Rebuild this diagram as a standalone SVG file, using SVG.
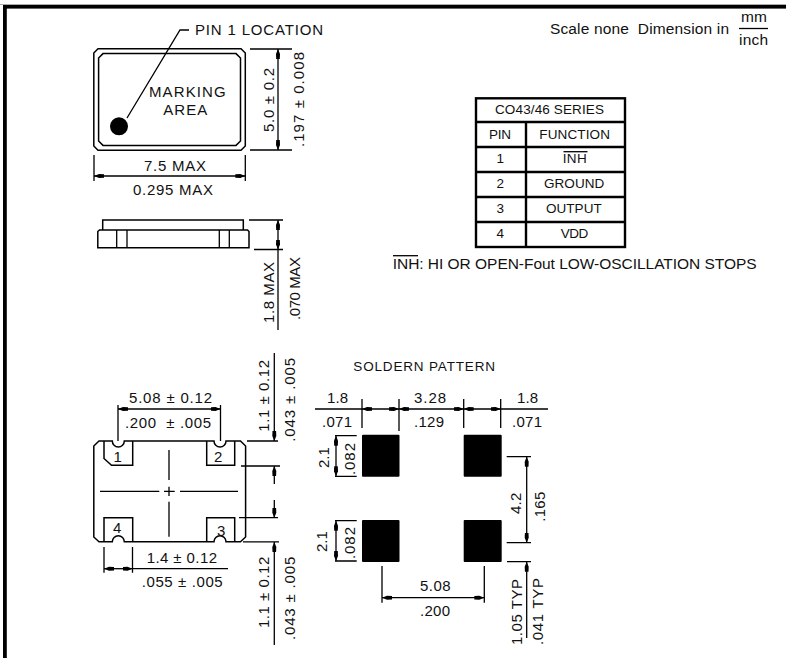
<svg xmlns="http://www.w3.org/2000/svg" width="786" height="658" viewBox="0 0 786 658">
<style>
text{font-family:"Liberation Sans",Arial,sans-serif;font-size:15px;fill:#111;white-space:pre}
.t{font-size:13.5px}
.o{fill:none;stroke:#000;stroke-width:1.5}
.l{fill:none;stroke:#000;stroke-width:1.3}
.d{fill:none;stroke:#000;stroke-width:1.3}
.a{marker-end:url(#arr)}
.b{marker-start:url(#arr);marker-end:url(#arr)}
.g{fill:none;stroke:#000;stroke-width:2.4}
.p{fill:#000}
.s{font-size:15.5px}
</style>
<defs>
<marker id="arr" markerUnits="userSpaceOnUse" markerWidth="11" markerHeight="6" refX="10" refY="3" orient="auto-start-reverse"><path d="M0 1.2L5 1L10 3L5 5L0 4.8Z" fill="#000"/></marker>
</defs>
<rect width="786" height="658" fill="#fff"/>
<g id="frame"><path d="M0 4.5H786" stroke="#aaa" stroke-width="1"/><rect x="3" y="5" width="783" height="3.6" fill="#000"/><rect x="3" y="5" width="3.8" height="653" fill="#000"/></g>
<g id="scale-note">
<text class="s" x="550" y="34" textLength="179" lengthAdjust="spacing">Scale none  Dimension in</text>
<text class="s" x="741" y="22" textLength="26">mm</text><path class="l" d="M739 28.5H768"/><text class="s" x="739" y="44.7" textLength="29">inch</text>
</g>
<g id="top-view">
<path class="o" d="M98 48.8H241L245.3 53V146L241 150.3H98L93.8 146V53Z"/>
<path class="o" d="M103 53.6H236L240.5 58V141L236 145.4H103L98.6 141V58Z"/>
<circle cx="119" cy="126.3" r="9" fill="#000"/>
<path class="l" d="M127 118L180 30H189"/>
<text x="195" y="34.7" textLength="128">PIN 1 LOCATION</text>
<text x="149" y="96.7" textLength="76.7">MARKING</text>
<text x="163.3" y="114.7" textLength="44">AREA</text>
</g>
<g id="side-view">
<path class="o" d="M102.7 230V220H243.3V230"/>
<path class="o" d="M99.5 230H247.5L249 231.5V247.7H97.8V231.5Z"/>
<path class="l" d="M116.7 230V248M127 230V248M219.3 230V248M229.3 230V248"/>
</g>
<g id="bottom-view">
<path class="o" d="M99 441H112.3A6 6 0 0 0 124.3 441H214A6 6 0 0 0 226 441H240.5L245.6 446V537L240.5 541.8H226A6 6 0 0 0 214 541.8H124.3A6 6 0 0 0 112.3 541.8H99L93.8 537V446Z"/>
<path class="o" d="M104 441V458.5L111.5 465.3H132.7V441M206.7 441V465.3H234.7V441M104 541.8V517.7H132.7V541.8M206.7 541.8V517.7H234.7V541.8"/>
<path class="l" d="M100 491.3H159.3M164 491.3H174.7M180 491.3H238M169 450V480M169 486.7V496M169 501.7V536.7"/>
<text x="113.5" y="462">1</text><text x="214" y="462">2</text><text x="113" y="533">4</text><text x="217" y="535.5">3</text>
</g>
<g id="solder-pattern">
<text x="353.3" y="371" style="font-size:13.5px" textLength="141.7">SOLDERN PATTERN</text>
<rect class="p" x="362" y="434.7" width="37.5" height="42" rx="1"/><rect class="p" x="463.7" y="434.7" width="38" height="42" rx="1"/>
<rect class="p" x="362" y="520" width="37.5" height="42" rx="1"/><rect class="p" x="463.7" y="520" width="38" height="42" rx="1"/>
</g>
<g id="pin-table">
<rect class="g" x="476" y="98.3" width="149" height="148.7"/>
<path class="g" d="M476 122H625M476 147H625M476 172H625M476 197H625M476 222H625M526 122V247"/>
<text class="t" x="495" y="114.3" textLength="109">CO43/46 SERIES</text>
<text class="t" x="489" y="139.3" textLength="22">PIN</text><text class="t" x="539.3" y="139.3" textLength="70.7">FUNCTION</text>
<text class="t" x="496.5" y="163.3">1</text><text class="t" x="562.7" y="163.3" textLength="24">INH</text><path class="l" d="M563.5 151.7H587.5"/>
<text class="t" x="496.5" y="188.3">2</text><text class="t" x="544" y="188.3" textLength="60.3">GROUND</text>
<text class="t" x="496.5" y="213.3">3</text><text class="t" x="546" y="213.3" textLength="55.7">OUTPUT</text>
<text class="t" x="496.5" y="238">4</text><text class="t" x="560.7" y="238" textLength="27.6">VDD</text>
</g>
<g id="footnote">
<text class="s" x="392.7" y="269.3" textLength="364">INH: HI OR OPEN-Fout LOW-OSCILLATION STOPS</text><path class="l" d="M393 255.7H418"/>
</g>
<g id="connectors">
<path class="d" d="M250 49H292M250 150H292M94 155V181M245.3 155V181M249 220H283M254 249.5H283"/>
<path class="d b" d="M278 49V150"/><path class="d b" d="M94 176H245.3"/>
<path class="d" d="M278 330V249.5"/><path class="d b" d="M278 249.5V220"/>
<path class="d" d="M118 405V441M220.5 405V441M247 441H278M241 466H280M239 517.7H278M243 541.8H279"/>
<path class="d b" d="M118 409H220.5"/>
<path class="d a" d="M274.3 353V441"/><path class="d a" d="M274.3 484V466"/><path class="d a" d="M274.3 500V517.7"/><path class="d a" d="M274.3 645V542"/>
<path class="d" d="M104 547V572.7M132.5 547V572.7"/><path class="d" d="M132.5 568.7H228"/><path class="d b" d="M104 568.7H132.5"/>
<path class="d" d="M315 409H362M501 409H548M362 399V428M399 399V431M463.7 399V428M500.7 399V428"/>
<path class="d b" d="M362 409H399"/><path class="d b" d="M399 409H463.7"/><path class="d b" d="M463.7 409H500.7"/>
<path class="d" d="M335 435.7H356.7M335 476.3H356.7M335 520.7H356.7M335 561H356.7"/>
<path class="d b" d="M336 435.7V476.3"/><path class="d b" d="M336 520.7V561"/>
<path class="d" d="M506.7 456.7H531M506.7 542.7H531M507 561.7H531"/>
<path class="d b" d="M526.7 456.7V542.7"/><path class="d a" d="M526.7 638V561.7"/>
<path class="d" d="M382 566V602.7M484.3 566V602.7"/><path class="d b" d="M382 597.7H484.3"/>
</g>
<g id="dimension-labels">
<text transform="translate(274 132) rotate(-90)" textLength="64">5.0 ± 0.2</text>
<text transform="translate(304 147) rotate(-90)" textLength="95">.197 ± 0.008</text>
<text x="144" y="170.7" textLength="62">7.5 MAX</text>
<text x="133" y="195" textLength="80">0.295 MAX</text>
<text transform="translate(274 323) rotate(-90)" textLength="61">1.8 MAX</text>
<text transform="translate(300 320) rotate(-90)" textLength="63">.070 MAX</text>
<text x="129" y="403.3" textLength="83">5.08 ± 0.12</text>
<text x="125" y="428" textLength="86">.200  ± .005</text>
<text transform="translate(269 431.7) rotate(-90)" textLength="71.7">1.1 ± 0.12</text>
<text transform="translate(295 441.7) rotate(-90)" textLength="83.7">.043 ± .005</text>
<text x="146.7" y="562.7" textLength="70.3">1.4 ± 0.12</text>
<text x="141.7" y="586.7" textLength="81">.055 ± .005</text>
<text transform="translate(269 628) rotate(-90)" textLength="71.3">1.1 ± 0.12</text>
<text transform="translate(295 640) rotate(-90)" textLength="83.3">.043 ± .005</text>
<text x="327" y="403" textLength="21">1.8</text><text x="322" y="427" textLength="30">.071</text>
<text x="414" y="403" textLength="32">3.28</text><text x="414" y="427" textLength="30">.129</text>
<text x="517" y="403" textLength="21">1.8</text><text x="512" y="427" textLength="30">.071</text>
<text transform="translate(329 468) rotate(-90)">2.1</text>
<text transform="translate(355 475) rotate(-90)" textLength="32">.082</text>
<text transform="translate(327 552) rotate(-90)">2.1</text>
<text transform="translate(355 559) rotate(-90)" textLength="32">.082</text>
<text transform="translate(520.7 514) rotate(-90)" textLength="21.3">4.2</text>
<text transform="translate(545 521.7) rotate(-90)" textLength="30">.165</text>
<text transform="translate(521.7 645) rotate(-90)" textLength="66">1.05 TYP</text>
<text transform="translate(542.7 645) rotate(-90)" textLength="67">.041 TYP</text>
<text x="420" y="590.7" textLength="30.7">5.08</text><text x="420" y="616" textLength="30">.200</text>
</g>
</svg>
